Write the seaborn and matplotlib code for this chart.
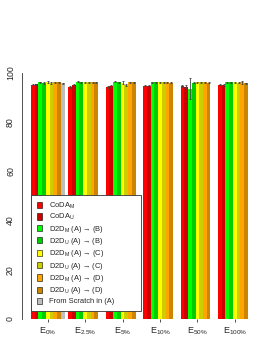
import numpy as np
import pandas as pd
import matplotlib
matplotlib.use('Agg')
import matplotlib.pyplot as plt
from matplotlib.patches import Patch
import seaborn as sns

settings = [r'E$_{0\%}$', r'E$_{2.5\%}$', r'E$_{5\%}$', r'E$_{10\%}$', r'E$_{50\%}$', r'E$_{100\%}$']
methods = [r'CoDA$_{M}$', r'CoDA$_{U}$',
           r'D2D$_{M}$ (A) → (B)', r'D2D$_{U}$ (A) → (B)',
           r'D2D$_{M}$ (A) → (C)', r'D2D$_{U}$ (A) → (C)',
           r'D2D$_{M}$ (A) → (D)', r'D2D$_{U}$ (A) → (D)',
           'From Scratch in (A)']
colors = ['#FF0000', '#CD0000', '#00FF00', '#00CD00', '#FFFF00', '#CDCD00',
          '#FFA500', '#CD8500', '#BEBEBE']

nan = np.nan
coda_m = [95.3, 94.3, 94.4, 94.9, 94.8, 95.3]
coda_u = [95.5, 95.3, 94.8, 94.9, 94.5, 95.0]
d2d_m_b = [96.3, 96.4, 96.4, 96.3, 93.6, 96.3]
d2d_u_b = [96.0, 96.3, 96.3, 96.3, 96.1, 96.2]
d2d_m_c = [96.3, 96.3, 96.0, 96.3, 96.2, 96.2]
d2d_u_c = [96.0, 96.2, 95.1, 96.2, 96.2, 96.1]
d2d_m_d = [96.2, 96.2, 96.2, 96.2, 96.2, 96.2]
d2d_u_d = [96.2, 96.2, 96.2, 96.1, 96.1, 95.9]
scratch = [95.8, nan, nan, nan, nan, nan]

err_coda_m = [0.2, 0.3, 0.3, 0.2, 0.3, 0.2]
err_coda_u = [0.2, 0.3, 0.3, 0.2, 0.5, 0.4]
err_d2d_m_b = [0.2, 0.2, 0.2, 0.2, 4.3, 0.2]
err_d2d_u_b = [0.3, 0.2, 0.2, 0.2, 0.2, 0.2]
err_d2d_m_c = [0.3, 0.2, 0.6, 0.2, 0.2, 0.2]
err_d2d_u_c = [0.4, 0.2, 0.3, 0.2, 0.2, 0.2]
err_d2d_m_d = [0.2, 0.2, 0.2, 0.2, 0.2, 0.6]
err_d2d_u_d = [0.2, 0.2, 0.2, 0.2, 0.2, 0.2]
err_scratch = [0.2, nan, nan, nan, nan, nan]

values = [coda_m, coda_u, d2d_m_b, d2d_u_b, d2d_m_c, d2d_u_c, d2d_m_d, d2d_u_d, scratch]
errors = [err_coda_m, err_coda_u, err_d2d_m_b, err_d2d_u_b, err_d2d_m_c, err_d2d_u_c,
          err_d2d_m_d, err_d2d_u_d, err_scratch]

rows = []
for m, vals, errs in zip(methods, values, errors):
    for s, v, e in zip(settings, vals, errs):
        rows.append({'setting': s, 'method': m, 'acc': v, 'err': e})
df = pd.DataFrame(rows)

sns.set_style('white')
plt.rcParams['font.family'] = ['Liberation Sans', 'DejaVu Sans']
plt.rcParams['mathtext.fontset'] = 'custom'
plt.rcParams['mathtext.rm'] = 'Liberation Sans'
plt.rcParams['mathtext.it'] = 'Liberation Sans'
plt.rcParams['mathtext.default'] = 'regular'

fig = plt.figure(figsize=(2.66, 3.44), dpi=100)
ax = fig.add_axes([22 / 266, 1 - 319 / 344, (260.5 - 22) / 266, (319 - 73) / 344])

sns.barplot(data=df, x='setting', y='acc', hue='method', order=settings, hue_order=methods,
            palette=colors, width=0.9, errorbar=None, saturation=1, ax=ax, legend=False,
            linewidth=0)

# error bars on top of the seaborn bars
for i, m in enumerate(methods):
    sub = df[df['method'] == m].dropna(subset=['acc'])
    bars = ax.containers[i]
    for bar, (_, r) in zip(bars, sub.iterrows()):
        xc = bar.get_x() + bar.get_width() / 2
        ax.errorbar(xc, r['acc'], yerr=r['err'], color='#444444', lw=0.6,
                    capsize=1.0, capthick=0.6, zorder=3)

ax.set_xlim(-0.686, 5.686)
ax.set_ylim(0, 100)
ax.set_yticks([0, 20, 40, 60, 80, 100])
ax.tick_params(axis='y', length=2.5, width=0.6, pad=2.5, color='#333333',
               labelsize=6.3, labelrotation=90)
for t in ax.get_yticklabels():
    t.set_va('center')
ax.tick_params(axis='x', length=2, width=0.6, pad=3, labelsize=6.5, color='#333333', bottom=True)
ax.set_xlabel('')
ax.set_ylabel('')
for s in ['top', 'right', 'bottom']:
    ax.spines[s].set_visible(False)
ax.spines['left'].set_linewidth(0.6)
ax.spines['left'].set_color('#333333')

handles = [Patch(facecolor=c, edgecolor='black', linewidth=0.4) for c in colors]
leg = ax.legend(handles, methods, loc='lower left',
                bbox_to_anchor=(31 / 266, 1 - 311 / 344, 110 / 266, 115 / 344),
                bbox_transform=fig.transFigure, mode='expand', fontsize=5.4,
                frameon=True, fancybox=False,
                handlelength=0.75, handleheight=0.9, handletextpad=0.9, labelspacing=0.18,
                borderpad=0.75, borderaxespad=0)
leg.get_frame().set_edgecolor('#333333')
leg.get_frame().set_linewidth(0.6)
leg.get_frame().set_alpha(1)
leg.set_zorder(5)

fig.savefig('out.png', dpi=100)
